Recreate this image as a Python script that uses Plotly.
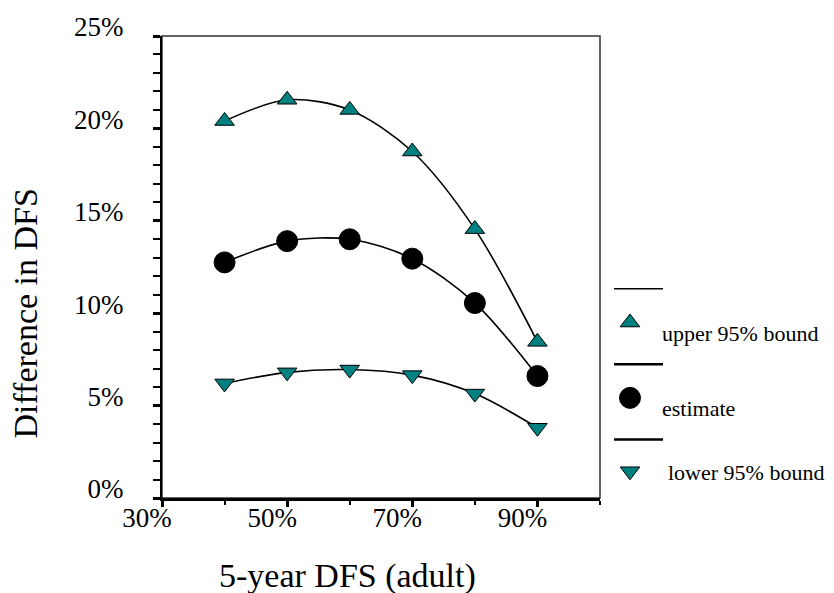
import plotly.graph_objects as go

# ---- data ----
adult_dfs = [40, 50, 60, 70, 80, 90]
upper_bound = [20.4, 21.55, 21.0, 18.75, 14.55, 8.45]
estimate = [12.75, 13.9, 14.0, 12.95, 10.55, 6.6]
lower_bound = [6.2, 6.8, 6.95, 6.65, 5.65, 3.8]

x_tickvals = [30, 50, 70, 90]
x_ticktext = ["30%", "50%", "70%", "90%"]
x_minor = [40, 60, 80, 100]
y_tickvals = [0, 5, 10, 15, 20, 25]
y_ticktext = ["0%", "5%", "10%", "15%", "20%", "25%"]
y_minor = list(range(0, 26))

legend_names = ["upper 95% bound", "estimate", "lower 95% bound"]

FONT = "Liberation Serif"
TEAL = "#008080"

fig = go.Figure()

series = [
    (upper_bound, "triangle-up", TEAL, 17),
    (estimate, "circle", "black", 21),
    (lower_bound, "triangle-down", TEAL, 17),
]
for vals, sym, col, size in series:
    fig.add_trace(go.Scatter(
        x=adult_dfs, y=vals, mode="lines+markers",
        line=dict(color="black", width=1.6, shape="spline", smoothing=0.9),
        marker=dict(symbol=sym, color=col, size=size, opacity=1,
                    line=dict(color="black", width=1)),
        showlegend=False, cliponaxis=False,
    ))

# ---- hand-made legend (on a hidden axis pair scaled to the page) ----
fig.add_trace(go.Scatter(
    x=[630, 630, 630], y=[321, 397, 471], mode="markers",
    marker=dict(symbol=["triangle-up", "circle", "triangle-down"],
                color=[TEAL, "black", TEAL], size=[17, 21, 17], opacity=1,
                line=dict(color="black", width=1)),
    xaxis="x2", yaxis="y2", showlegend=False, cliponaxis=False,
    hoverinfo="skip",
))

shapes = [
    dict(type="rect", xref="x domain", yref="y domain", x0=0, x1=1, y0=0, y1=1,
         line=dict(color="#333333", width=1.5), layer="below"),
    dict(type="line", xref="x2", yref="y2", x0=614, x1=663, y0=287, y1=287,
         line=dict(color="black", width=1.5)),
    dict(type="line", xref="x2", yref="y2", x0=614, x1=663, y0=363, y1=363,
         line=dict(color="black", width=2.5)),
    dict(type="line", xref="x2", yref="y2", x0=614, x1=663, y0=439, y1=439,
         line=dict(color="black", width=2.5)),
]

annotations = [
    dict(text=legend_names[0], xref="x2", yref="y2", x=660, y=332,
         xanchor="left", yanchor="middle", showarrow=False,
         font=dict(family=FONT, size=22, color="black")),
    dict(text=legend_names[1], xref="x2", yref="y2", x=660, y=408,
         xanchor="left", yanchor="middle", showarrow=False,
         font=dict(family=FONT, size=22, color="black")),
    dict(text=legend_names[2], xref="x2", yref="y2", x=666, y=472,
         xanchor="left", yanchor="middle", showarrow=False,
         font=dict(family=FONT, size=22, color="black")),
    dict(text="5-year DFS (adult)", xref="paper", yref="paper",
         x=0.2784, y=-0.1695, xanchor="center", yanchor="middle",
         showarrow=False, font=dict(family=FONT, size=34, color="black")),
    dict(text="Difference in DFS", xref="paper", yref="paper",
         x=-0.2036, y=0.4013, xanchor="center", yanchor="middle",
         textangle=-90, showarrow=False,
         font=dict(family=FONT, size=34, color="black")),
]

# page body has an 8px margin, so the figure is 8px smaller each way
fig.update_layout(
    width=826, height=585,
    margin=dict(l=154, r=4, t=24, b=95),
    paper_bgcolor="white", plot_bgcolor="rgba(0,0,0,0)",
    font=dict(family=FONT, color="black"),
    xaxis=dict(
        domain=[0, 438 / 668], range=[30, 100],
        tickvals=x_tickvals, ticktext=x_ticktext,
        ticks="outside", ticklen=6, tickwidth=2.5, tickcolor="black",
        minor=dict(tickvals=x_minor, ticks="outside", ticklen=4,
                   tickwidth=2, tickcolor="black"),
        showline=True, linewidth=3, linecolor="black",
        showgrid=False, zeroline=False,
        tickfont=dict(family=FONT, size=27, color="black"),
        ticklabelshift=-15, ticklabelstandoff=-12,
        anchor="y",
    ),
    yaxis=dict(
        range=[0, 25],
        tickvals=y_tickvals, ticktext=y_ticktext,
        ticks="outside", ticklen=7, tickwidth=2.5, tickcolor="black",
        minor=dict(tickvals=y_minor, ticks="outside", ticklen=7,
                   tickwidth=2, tickcolor="black"),
        showline=True, linewidth=2, linecolor="black",
        showgrid=False, zeroline=False,
        tickfont=dict(family=FONT, size=27, color="black"),
        ticklabelshift=-9, ticklabelstandoff=24,
        anchor="x",
    ),
    xaxis2=dict(domain=[0, 1], range=[162, 830], visible=False,
                anchor="y2", fixedrange=True),
    yaxis2=dict(domain=[0, 1], range=[498, 32], visible=False,
                anchor="x2", fixedrange=True),
    shapes=shapes,
    annotations=annotations,
)

fig.write_html("out.html")
